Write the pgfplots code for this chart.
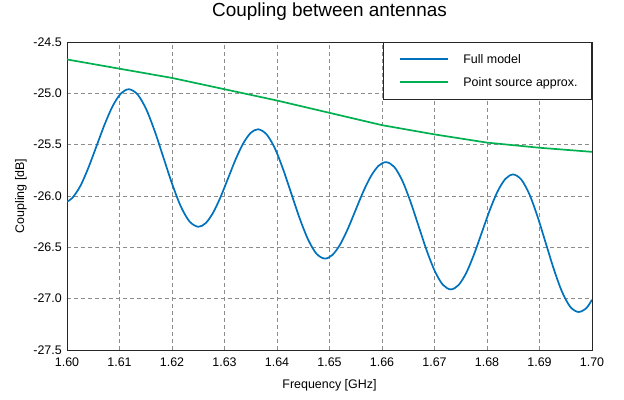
\documentclass[border=0pt]{standalone}
\usepackage{pgfplots}
\pgfplotsset{compat=1.18}
\usepackage{fontspec}
\setmainfont{Liberation Sans}
\definecolor{fullblue}{RGB}{0,114,189}
\definecolor{ptgreen}{RGB}{0,176,80}
\begin{document}
\begin{tikzpicture}
\path[use as bounding box] (-67bp,-50bp) rectangle (557bp,350bp);
\begin{axis}[
  at={(0,0)}, anchor=south west,
  scale only axis, width=525bp, height=308bp,
  xmin=1.6, xmax=1.7, ymin=-27.5, ymax=-24.5,
  xtick={1.60,1.61,1.62,1.63,1.64,1.65,1.66,1.67,1.68,1.69,1.70},
  xticklabels={1.60,1.61,1.62,1.63,1.64,1.65,1.66,1.67,1.68,1.69,1.70},
  ytick={-27.5,-27,-26.5,-26,-25.5,-25,-24.5},
  yticklabels={-27.5,-27.0,-26.5,-26.0,-25.5,-25.0,-24.5},
  major tick length=0pt,
  grid=major,
  grid style={dash pattern=on 4bp off 3bp, black!45, line width=0.8bp},
  axis line style={black!85, line width=0.9bp},
  tick label style={font=\fontsize{12.5}{15}\selectfont},
  xticklabel style={anchor=base, yshift=-16bp, inner sep=0pt},
  yticklabel style={anchor=east, xshift=-5bp, inner sep=0pt},
  title={Coupling between antennas},
  title style={font=\fontsize{19}{22}\selectfont, at={(axis description cs:0.5,1)}, anchor=base, yshift=20bp, inner sep=0pt},
  xlabel={Frequency [GHz]},
  xlabel style={font=\fontsize{12.5}{15}\selectfont, at={(axis description cs:0.5,-0.1234)}, anchor=base, inner sep=0pt},
  ylabel={Coupling [dB]},
  ylabel style={font=\fontsize{12.5}{15}\selectfont, at={(axis description cs:-0.0762,0.5)}, anchor=south, inner sep=0pt},
  legend style={at={(1,1)}, anchor=north east, draw=black!85, line width=0.8bp,
    inner xsep=10bp, inner ysep=5.5bp, row sep=0pt,
    font=\fontsize{12.5}{15}\selectfont,
    nodes={inner xsep=4bp, inner ysep=0pt, text height=9bp, text depth=0pt},
    cells={anchor=west}},
  legend image code/.code={\draw[#1, line width=1.7bp] (0bp,0.3bp) -- (48bp,0.3bp); \path[draw=none,fill=none] (-7bp,-11.5bp) rectangle (59bp,11.5bp);},
]
\addplot[fullblue, line width=1.7bp, smooth, tension=0.5] coordinates {
(1.6000,-26.055) (1.60104,-26.018) (1.60258,-25.899) (1.60411,-25.720) (1.60565,-25.51)
(1.60719,-25.300) (1.60873,-25.121) (1.61026,-25.002) (1.6118,-24.96)
(1.61345,-25.011) (1.6151,-25.156) (1.61675,-25.374) (1.6184,-25.63)
(1.62005,-25.886) (1.6217,-26.104) (1.62335,-26.249) (1.6250,-26.30)
(1.626425,-26.264) (1.62785,-26.161) (1.629275,-26.007) (1.6307,-25.825)
(1.632125,-25.643) (1.63355,-25.489) (1.634975,-25.386) (1.6364,-25.35)
(1.63799,-25.398) (1.63958,-25.534) (1.64116,-25.739) (1.64275,-25.98)
(1.64434,-26.221) (1.64593,-26.425) (1.64751,-26.562) (1.6491,-26.61)
(1.65056,-26.574) (1.65203,-26.472) (1.65349,-26.320) (1.65495,-26.14)
(1.65641,-25.960) (1.65788,-25.808) (1.65934,-25.706) (1.6608,-25.67)
(1.66234,-25.717) (1.66388,-25.852) (1.66541,-26.053) (1.66695,-26.29)
(1.66849,-26.527) (1.67003,-26.728) (1.67156,-26.863) (1.6731,-26.91)
(1.67459,-26.867) (1.67608,-26.746) (1.67756,-26.564) (1.67905,-26.35)
(1.68054,-26.136) (1.68203,-25.954) (1.68351,-25.833) (1.6850,-25.79)
(1.68655,-25.841) (1.6881,-25.986) (1.68965,-26.204) (1.6912,-26.46)
(1.69275,-26.716) (1.6943,-26.934) (1.69585,-27.079) (1.6974,-27.13)
(1.69891,-27.093) (1.7000,-27.01)
};
\addlegendentry{Full model}
\addplot[ptgreen, line width=1.7bp] coordinates {
(1.60,-24.67) (1.61,-24.76) (1.62,-24.85) (1.63,-24.96) (1.64,-25.07) (1.65,-25.19)
(1.66,-25.31) (1.67,-25.40) (1.68,-25.48) (1.69,-25.53) (1.70,-25.57)
};
\addlegendentry{Point source approx.}
\end{axis}
\end{tikzpicture}
\end{document}
